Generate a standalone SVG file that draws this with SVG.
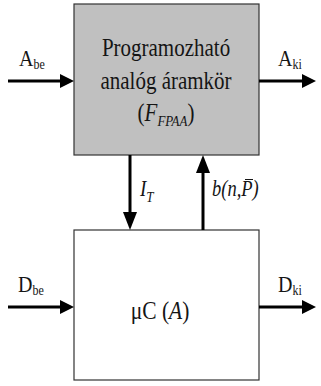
<svg xmlns="http://www.w3.org/2000/svg" width="321" height="386" viewBox="0 0 321 386">
<style>
.box{stroke:#333;stroke-width:1.2}
.t{font-family:"Liberation Serif","Times New Roman",serif;fill:#151515}
.ln{stroke:#000;stroke-width:3;fill:none}
.hd{fill:#000}
</style>
<rect width="321" height="386" fill="#fff"/>
<g id="fpaa">
<rect class="box" x="74" y="4" width="185" height="151" fill="#c0c0c0"/>
<text class="t" transform="translate(166,56) scale(1,1.2)" font-size="21" text-anchor="middle">Programozható</text>
<text class="t" transform="translate(166,89) scale(1,1.2)" font-size="21" text-anchor="middle">analóg áramkör</text>
<text class="t" transform="translate(166,121) scale(1,1.2)" font-size="21" text-anchor="middle">(<tspan font-style="italic">F</tspan><tspan font-style="italic" font-size="13" dy="4">FPAA</tspan><tspan dy="-4">)</tspan></text>
</g>
<g id="uc">
<rect class="box" x="74" y="230" width="185" height="150" fill="#fff"/>
<text class="t" transform="translate(160,319) scale(1,1.2)" font-size="21.5" text-anchor="middle">μC (<tspan font-style="italic">A</tspan>)</text>
</g>
<g id="connectors">
<line class="ln" x1="8" y1="81" x2="62" y2="81"/>
<polygon class="hd" points="60,74 74,81 60,88"/>
<line class="ln" x1="259" y1="81" x2="304" y2="81"/>
<polygon class="hd" points="302,74 316,81 302,88"/>
<line class="ln" x1="8" y1="307" x2="62" y2="307"/>
<polygon class="hd" points="60,300 74,307 60,314"/>
<line class="ln" x1="259" y1="307" x2="304" y2="307"/>
<polygon class="hd" points="302,300 316,307 302,314"/>
<line class="ln" x1="130" y1="155" x2="130" y2="214"/>
<polygon class="hd" points="123,212 130,230 137,212"/>
<line class="ln" x1="203" y1="230" x2="203" y2="171"/>
<polygon class="hd" points="196,173 203,155 210,173"/>
</g>
<g id="labels">
<text class="t" transform="translate(19,66) scale(1,1.15)" font-size="20">A<tspan font-size="12" dy="3">be</tspan></text>
<text class="t" transform="translate(278,66) scale(1,1.15)" font-size="20">A<tspan font-size="12" dy="3">ki</tspan></text>
<text class="t" transform="translate(18,292) scale(1,1.15)" font-size="20">D<tspan font-size="12" dy="3">be</tspan></text>
<text class="t" transform="translate(278,292) scale(1,1.15)" font-size="20">D<tspan font-size="12" dy="3">ki</tspan></text>
<text class="t" transform="translate(140,196) scale(1,1.2)" font-size="19" font-style="italic">I<tspan font-size="13" dy="5">T</tspan></text>
<text class="t" transform="translate(212,196) scale(1,1.2)" font-size="18.5" font-style="italic">b(n,P)</text>
<line x1="245" y1="179.5" x2="253" y2="179.5" stroke="#151515" stroke-width="1"/>
</g>
</svg>
